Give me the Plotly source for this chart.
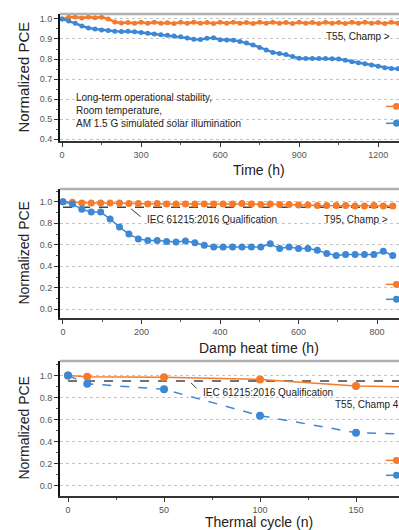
import plotly.graph_objects as go

W, H = 399, 530
ORANGE = "#F47B2B"
BLUE = "#3C88D6"

# ---------------- data ----------------
# Panel 1: long-term operational stability
time_h = [0, 25, 50, 75, 100, 125, 150, 175, 200, 225, 250, 275, 300, 325, 350, 375,
          400, 425, 450, 475, 500, 525, 550, 575, 600, 625, 650, 675, 700, 725, 750,
          775, 800, 825, 850, 875, 900, 925, 950, 975, 1000, 1025, 1050, 1075, 1100,
          1125, 1150, 1175, 1200, 1225, 1250, 1275]
pce1_orange = [1.000, 1.008, 1.010, 1.005, 1.010, 1.006, 1.009, 1.000, 0.985, 0.980,
               0.982, 0.978, 0.983, 0.979, 0.984, 0.978, 0.981, 0.977, 0.983, 0.979,
               0.984, 0.978, 0.982, 0.977, 0.983, 0.979, 0.984, 0.978, 0.982, 0.977,
               0.983, 0.979, 0.984, 0.978, 0.982, 0.977, 0.983, 0.979, 0.982, 0.977,
               0.983, 0.978, 0.982, 0.977, 0.983, 0.979, 0.984, 0.978, 0.982, 0.977,
               0.983, 0.979]
pce1_blue = [1.000, 0.990, 0.978, 0.965, 0.955, 0.950, 0.945, 0.942, 0.938, 0.937,
             0.938, 0.936, 0.932, 0.928, 0.925, 0.921, 0.918, 0.915, 0.911, 0.905,
             0.899, 0.898, 0.903, 0.906, 0.896, 0.895, 0.894, 0.888, 0.880, 0.870,
             0.858, 0.845, 0.833, 0.828, 0.822, 0.812, 0.804, 0.803, 0.803, 0.802,
             0.803, 0.801, 0.800, 0.794, 0.786, 0.781, 0.776, 0.770, 0.764, 0.757,
             0.753, 0.752]

# Panel 2: damp heat
damp_h = [0, 24, 48, 72, 96, 120, 144, 168, 192, 216, 240, 264, 288, 312, 336, 360,
          384, 408, 432, 456, 480, 504, 528, 552, 576, 600, 624, 648, 672, 696, 720,
          744, 768, 792, 816, 840]
pce2_orange = [1.00, 0.995, 0.99, 0.99, 0.99, 0.99, 0.99, 0.985, 0.985, 0.98, 0.985,
               0.98, 0.98, 0.98, 0.98, 0.98, 0.98, 0.98, 0.98, 0.985, 0.98, 0.975,
               0.98, 0.975, 0.975, 0.97, 0.97, 0.965, 0.965, 0.965, 0.965, 0.96, 0.96,
               0.965, 0.96, 0.96]
pce2_blue = [1.00, 0.98, 0.93, 0.905, 0.905, 0.84, 0.765, 0.70, 0.655, 0.64, 0.64,
             0.63, 0.625, 0.635, 0.62, 0.595, 0.58, 0.58, 0.58, 0.58, 0.58, 0.58,
             0.61, 0.565, 0.58, 0.565, 0.565, 0.55, 0.52, 0.50, 0.51, 0.51, 0.51,
             0.51, 0.54, 0.50]

# Panel 3: thermal cycling
cycles = [0, 10, 50, 100, 150, 200]
pce3_orange = [1.00, 0.99, 0.985, 0.965, 0.905, 0.89]
pce3_blue = [1.00, 0.925, 0.875, 0.635, 0.48, 0.455]

iec_level = 0.95

ticks1 = [0.4, 0.5, 0.6, 0.7, 0.8, 0.9, 1.0]
ticks23 = [0.0, 0.2, 0.4, 0.6, 0.8, 1.0]

# ---------------- layout helpers ----------------
def px(x):
    return x / W

def py(y):
    return 1 - y / H

AX_L = 60
panels = {
    1: dict(top=14, bot=142, xr=[-8, 1279], yr=[0.39, 1.025]),
    2: dict(top=190, bot=320, xr=[-7.6, 856], yr=[-0.083, 1.12]),
    3: dict(top=363, bot=499, xr=[-4.2, 172.4], yr=[-0.098, 1.133]),
}

fig = go.Figure()

# panel 1 traces
fig.add_trace(go.Scatter(x=time_h, y=pce1_orange, mode="lines+markers",
                         line=dict(color=ORANGE, width=2.5), marker=dict(size=5, color=ORANGE),
                         xaxis="x", yaxis="y", showlegend=False))
fig.add_trace(go.Scatter(x=time_h, y=pce1_blue, mode="lines+markers",
                         line=dict(color=BLUE, width=2.5), marker=dict(size=5, color=BLUE),
                         xaxis="x", yaxis="y", showlegend=False))
# panel 2
fig.add_trace(go.Scatter(x=[damp_h[0], 856], y=[iec_level, iec_level], mode="lines",
                         line=dict(color="#444444", width=1.5, dash="dash"),
                         xaxis="x2", yaxis="y2", showlegend=False))
fig.add_trace(go.Scatter(x=damp_h, y=pce2_orange, mode="lines+markers",
                         line=dict(color=ORANGE, width=1.5), marker=dict(size=7, color=ORANGE),
                         xaxis="x2", yaxis="y2", showlegend=False))
fig.add_trace(go.Scatter(x=damp_h, y=pce2_blue, mode="lines+markers",
                         line=dict(color=BLUE, width=1.5), marker=dict(size=7, color=BLUE),
                         xaxis="x2", yaxis="y2", showlegend=False))
# panel 3
fig.add_trace(go.Scatter(x=[cycles[0], 172.4], y=[iec_level, iec_level], mode="lines",
                         line=dict(color="#444444", width=1.5, dash="dash"),
                         xaxis="x3", yaxis="y3", showlegend=False))
fig.add_trace(go.Scatter(x=cycles, y=pce3_orange, mode="lines+markers",
                         line=dict(color=ORANGE, width=1.5), marker=dict(size=8, color=ORANGE),
                         xaxis="x3", yaxis="y3", showlegend=False))
fig.add_trace(go.Scatter(x=cycles, y=pce3_blue, mode="lines+markers",
                         line=dict(color=BLUE, width=1.5, dash="dash"), marker=dict(size=8, color=BLUE),
                         xaxis="x3", yaxis="y3", showlegend=False))

tickfont = dict(family="Liberation Sans, Arial, sans-serif", size=9, color="#555555")
xdt = {1: 300, 2: 200, 3: 50}
ytv = {1: ticks1, 2: ticks23, 3: ticks23}
ymin = {1: 0.05, 2: 0.1, 3: 0.1}

layout = dict(width=W, height=H, margin=dict(l=0, r=0, t=0, b=0),
              paper_bgcolor="white", plot_bgcolor="white", showlegend=False,
              font=dict(family="Liberation Sans, Arial, sans-serif", color="#333333"))
for i, p in panels.items():
    xs = "xaxis" if i == 1 else f"xaxis{i}"
    ys = "yaxis" if i == 1 else f"yaxis{i}"
    yid = "y" if i == 1 else f"y{i}"
    xid = "x" if i == 1 else f"x{i}"
    layout[xs] = dict(domain=[px(AX_L), 1], range=p["xr"], anchor=yid,
                      showline=True, linecolor="#333333", linewidth=2,
                      ticks="outside", ticklen=4, tickwidth=1, tickcolor="#333333",
                      tick0=0, dtick=xdt[i], tickfont=tickfont, showgrid=False,
                      zeroline=False,
                      minor=dict(ticks="outside", ticklen=2, dtick=xdt[i] / 2,
                                 tickcolor="#555555", showgrid=False))
    layout[ys] = dict(domain=[py(p["bot"]), py(p["top"])], range=p["yr"], anchor=xid,
                      showline=True, linecolor="#111111", linewidth=2,
                      ticks="outside", ticklen=4, tickwidth=1, tickcolor="#333333",
                      tickvals=ytv[i], ticktext=[f"{v:.1f}" for v in ytv[i]],
                      tickfont=tickfont, showgrid=True, gridcolor="#c4c4c4",
                      griddash="dot", gridwidth=1, zeroline=False,
                      minor=dict(ticks="outside", ticklen=2, dtick=ymin[i],
                                 tickcolor="#555555", showgrid=False))
fig.update_layout(**layout)

shapes = []
# top frame lines
for i, p in panels.items():
    shapes.append(dict(type="line", xref="paper", yref="paper",
                       x0=px(AX_L), x1=1, y0=py(p["top"]), y1=py(p["top"]),
                       line=dict(color="#b0b0b0", width=2.5)))
# cut-off legend keys at the right edge
legend_keys = [(107, ORANGE), (124, BLUE), (286, ORANGE), (301, BLUE), (463, ORANGE), (478, BLUE)]
for yk, c in legend_keys:
    shapes.append(dict(type="line", xref="paper", yref="paper",
                       x0=px(386), x1=px(399), y0=py(yk), y1=py(yk), line=dict(color=c, width=1.5)))
    shapes.append(dict(type="circle", xref="paper", yref="paper",
                       x0=px(393), x1=px(400), y0=py(yk + 3.5), y1=py(yk - 3.5),
                       fillcolor=c, line=dict(color=c, width=0)))
fig.update_layout(shapes=shapes)

ann = []
titlefont = dict(family="Liberation Sans, Arial, sans-serif", size=14, color="#222222")
small = dict(family="Liberation Sans, Arial, sans-serif", size=10, color="#222222")
# y titles
for yc, sz in [((14 + 142) / 2, 15), ((190 + 320) / 2, 14), ((363 + 499) / 2, 14)]:
    ann.append(dict(text="Normalized PCE", xref="paper", yref="paper", x=px(24), y=py(yc),
                    textangle=-90, showarrow=False, font=dict(titlefont, size=sz),
                    xanchor="center", yanchor="middle"))
# x titles
for txt, yc in [("Time (h)", 171), ("Damp heat time (h)", 350), ("Thermal cycle (n)", 525)]:
    ann.append(dict(text=txt, xref="paper", yref="paper", x=px(259), y=py(yc),
                    showarrow=False, font=titlefont, xanchor="center", yanchor="middle"))
# panel 1 texts
for txt, yc in [("Long-term operational stability,", 98),
                ("Room temperature,", 111),
                ("AM 1.5 G simulated solar illumination", 124)]:
    ann.append(dict(text=txt, xref="paper", yref="paper", x=px(74), y=py(yc),
                    showarrow=False, font=small, xanchor="left", yanchor="middle"))
ann.append(dict(text="T55, Champ >", xref="paper", yref="paper", x=px(324), y=py(37),
                showarrow=False, font=small, xanchor="left", yanchor="middle"))
# panel 2 texts
ann.append(dict(text="IEC 61215:2016 Qualification", xref="paper", yref="paper",
                x=px(145), y=py(221), showarrow=False, font=small,
                xanchor="left", yanchor="middle"))
ann.append(dict(text="T95, Champ >", xref="paper", yref="paper", x=px(322), y=py(221),
                showarrow=False, font=small, xanchor="left", yanchor="middle"))
ann.append(dict(text="", xref="paper", yref="paper", x=px(131), y=py(210),
                ax=11, ay=9, showarrow=True, arrowhead=0, arrowwidth=1, arrowcolor="#333333"))
# panel 3 texts
ann.append(dict(text="IEC 61215:2016 Qualification", xref="paper", yref="paper",
                x=px(201), y=py(395), showarrow=False, font=small,
                xanchor="left", yanchor="middle"))
ann.append(dict(text="T55, Champ 4", xref="paper", yref="paper", x=px(333), y=py(407),
                showarrow=False, font=small, xanchor="left", yanchor="middle"))
ann.append(dict(text="", xref="paper", yref="paper", x=px(191), y=py(385),
                ax=7, ay=7, showarrow=True, arrowhead=0, arrowwidth=1, arrowcolor="#333333"))
fig.update_layout(annotations=ann)

fig.write_html(
    "out.html",
    config={"displayModeBar": False},
    post_script="document.documentElement.style.overflow='hidden';"
                "document.body.style.margin='0';document.body.style.overflow='hidden';",
)
